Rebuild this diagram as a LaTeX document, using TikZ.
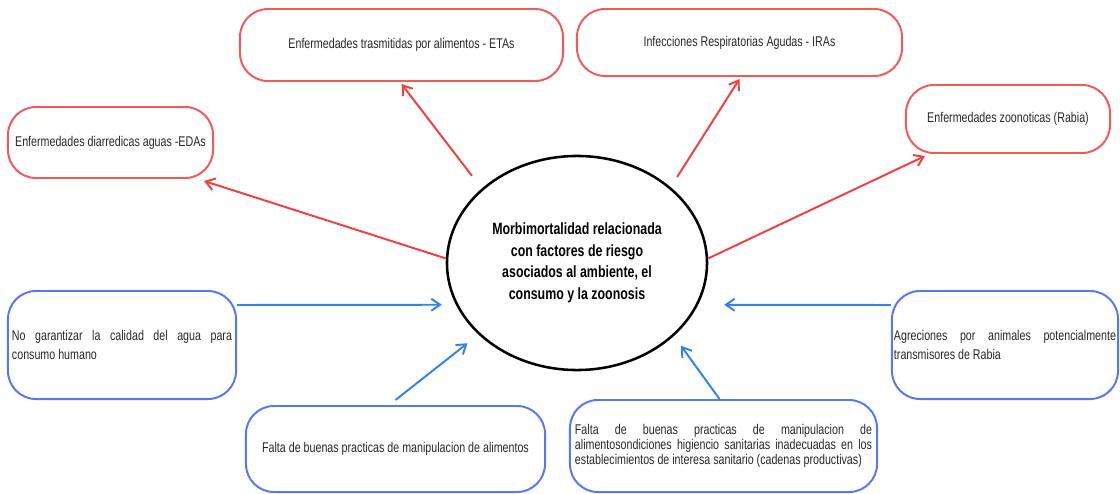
\documentclass[tikz,border=0pt]{standalone}
\usepackage{fontspec}
\setmainfont[FakeStretch=0.76]{Liberation Sans}
\usepackage{xcolor}
\usepackage{tikz}
\usetikzlibrary{shapes.geometric, arrows.meta, positioning}
\definecolor{boxred}{RGB}{242,90,90}
\definecolor{boxblue}{RGB}{88,120,242}
\definecolor{arrred}{RGB}{240,64,64}
\definecolor{arrblue}{RGB}{52,130,240}
\definecolor{txtgray}{RGB}{40,40,40}
\hyphenpenalty=10000
\tikzset{
    redarrow/.style={draw=arrred, line width=1.4pt, -{Straight Barb[length=2.2mm,width=3mm]}},
    bluearrow/.style={draw=arrblue, line width=1.4pt, -{Straight Barb[length=2.2mm,width=3mm]}},
    box/.style={draw, rectangle, rounded corners=0.7cm, line width=1.4pt, fill=white, text=txtgray, font=\fontsize{10}{11}\selectfont, align=center, inner sep=0.1cm},
    redbox/.style={box, draw=boxred},
    bluebox/.style={box, draw=boxblue},
    hub/.style={draw, ellipse, line width=1.8pt, inner sep=0pt, font=\bfseries\fontsize{11.6}{15.3}\selectfont, align=center}
}

\begin{document}
\begin{tikzpicture}[x=0.025cm, y=-0.025cm]
    \useasboundingbox (0,0) rectangle (1120,494);
    \node (c) [hub, minimum width=6.5cm, minimum height=5.35cm] at (577,263) {Morbimortalidad relacionada\\con factores de riesgo\\asociados al ambiente, el\\consumo y la zoonosis};
    % efectos
    \node (eda) [redbox, minimum width=5.125cm, minimum height=1.775cm] at (110.5,142.5) {Enfermedades diarredicas aguas -EDAs};
    \node (eta) [redbox, minimum width=8.075cm, minimum height=1.8cm] at (401.5,45) {Enfermedades trasmitidas por alimentos - ETAs};
    \node (ira) [redbox, minimum width=8.125cm, minimum height=1.675cm] at (739.5,42.5) {Infecciones Respiratorias Agudas - IRAs};
    \node (zoo) [redbox, minimum width=5.1cm, minimum height=1.7cm] at (1008,119) {Enfermedades zoonoticas (Rabia)};
    % causas
    \node (agua) [bluebox, minimum width=5.7cm, minimum height=2.7cm, text width=5.5cm, align=justify, font=\fontsize{10}{14}\selectfont] at (122,345) {No garantizar la calidad del agua para\linebreak consumo humano};
    \node (rabia) [bluebox, minimum width=5.65cm, minimum height=2.7cm, inner xsep=0.05cm, text width=5.55cm, align=justify, font=\fontsize{10}{13}\selectfont] at (1005,345) {Agreciones por animales potencialmente\linebreak transmisores de Rabia};
    \node (manip) [bluebox, minimum width=7.475cm, minimum height=2.15cm] at (395.5,449) {Falta de buenas practicas de manipulacion de alimentos};
    \node (cadena) [bluebox, minimum width=7.675cm, minimum height=2.3cm, text width=7.425cm, align=justify, font=\fontsize{10}{10.9}\selectfont] at (723.5,446) {Falta de buenas practicas de manipulacion de\linebreak alimentosondiciones higiencio sanitarias inadecuadas en los\linebreak establecimientos de interesa sanitario (cadenas productivas)};
    \draw [redarrow] (c.178) -- ([xshift=-0.25cm,yshift=-0.05cm]eda.south east);
    \draw [redarrow, shorten <=0.4cm] (c.142) -- ([yshift=-0.05cm]eta.south);
    \draw [redarrow, shorten <=0.3cm] (c.39) -- ([yshift=-0.05cm]ira.south);
    \draw [redarrow] (c.2) -- ([xshift=0.5cm,yshift=-0.05cm]zoo.south west);
    \draw [bluearrow, shorten >=0.35cm] ([yshift=-0.375cm]agua.north east) -- (c.199);
    \draw [bluearrow, shorten >=0.35cm] ([yshift=0.125cm]manip.north) -- (c.216);
    \draw [bluearrow, shorten >=0.3cm] ([xshift=-0.1cm]cadena.north) -- (c.323);
    \draw [bluearrow, shorten >=0.65cm] ([yshift=-0.375cm]rabia.north west) -- (c.341);
\end{tikzpicture}
\end{document}
